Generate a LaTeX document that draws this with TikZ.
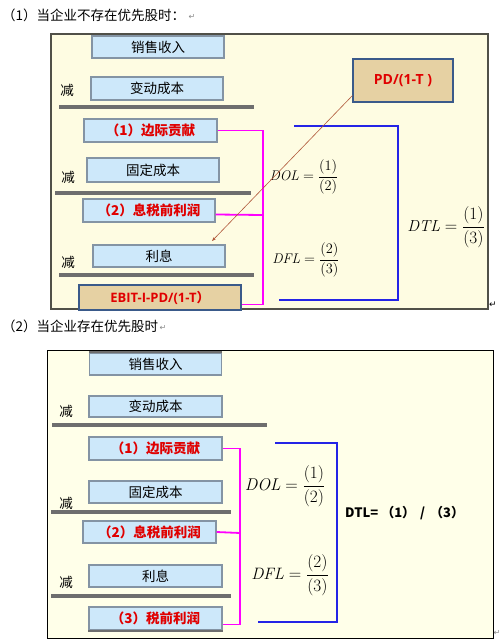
\documentclass[tikz,border=0pt]{standalone}
\usepackage{fontspec}
\usepackage{amsmath}
\newfontfamily\cjk{Noto Sans CJK SC}
\newfontfamily\osans{Open Sans}
\newfontfamily\dejavu{DejaVu Sans}
\usetikzlibrary{arrows.meta,calc}
\definecolor{boxfill}{HTML}{CDE8FA}
\definecolor{boxline}{HTML}{8494A4}
\definecolor{redtxt}{HTML}{E00000}
\definecolor{tanfill}{HTML}{E6D1A3}
\definecolor{tanline}{HTML}{3A5A8A}
\definecolor{bargray}{HTML}{6E6E6E}
\definecolor{magline}{HTML}{FF00FF}
\definecolor{blueline}{HTML}{2424E6}
\definecolor{panelA}{HTML}{FEFCE2}
\definecolor{panelB}{HTML}{FFFFE9}
\definecolor{frameA}{HTML}{505048}
\definecolor{brownline}{HTML}{B0583A}
\definecolor{markgray}{HTML}{8A8A8A}
\tikzset{
  box/.style={draw=boxline, line width=1.1pt, fill=boxfill, minimum width=132pt,
    minimum height=22pt, inner sep=0pt, font=\cjk\fontsize{13.5}{15}\selectfont},
  redbox/.style={box, text=redtxt, font=\cjk\bfseries\fontsize{13.5}{15}\selectfont},
  tanbox/.style={draw=tanline, line width=1.1pt, fill=tanfill, inner sep=0pt,
    text=redtxt, font=\osans\bfseries\fontsize{13}{15}\selectfont},
  bar/.style={draw=bargray, line width=4pt},
  mag/.style={draw=magline, line width=1.8pt},
  blu/.style={draw=blueline, line width=2pt},
  jian/.style={inner sep=0pt, font=\cjk\fontsize{13.5}{15}\selectfont},
  ttl/.style={inner sep=0pt, anchor=west, font=\cjk\fontsize{13.5}{15}\selectfont},
  pmark/.style={inner sep=0pt, text=markgray, font=\dejavu\fontsize{8}{9}\selectfont},
  fml/.style={inner sep=0pt}
}
\begin{document}
\begin{tikzpicture}[x=1pt,y=-1pt]
\useasboundingbox[fill=white] (0,0) rectangle (501,642);

% ---------- titles ----------
\node[ttl] (t1) at (2,15) {（1）当企业不存在优先股时：};
\node[pmark, anchor=west] (p1) at ($(t1.east)+(3,2)$) {↵};
\node[ttl] (t2) at (2,326) {（2）当企业存在优先股时};
\node[pmark, anchor=west] (p2) at ($(t2.east)+(1,2)$) {↵};

% ================= panel 1 =================
\draw[draw=frameA, line width=1.5pt, fill=panelA] (51,34) rectangle (488,309);

\node[box] (s1) at (158,47) {销售收入};
\node[jian] (j1) at (67,90) {减};
\node[box, minimum height=23pt] (v1) at (157,88.5) {变动成本};
\draw[bar] (59,107) -- (254,107);
\node[redbox, minimum width=133pt, minimum height=23pt] (m1) at (150.5,130.5) {（1）边际贡献};
\node[jian] (j2) at (68,177) {减};
\node[box, minimum height=24pt] (f1) at (153,170) {固定成本};
\draw[bar] (55,193) -- (251,193);
\node[redbox, minimum height=23pt] (e1) at (149,210.5) {（2）息税前利润};
\node[jian] (j3) at (68,262) {减};
\node[box] (i1) at (159,256) {利息};
\draw[bar] (59,275) -- (254,275);
\node[tanbox, minimum width=162pt, minimum height=25pt] (b1) at (160,297.5) {EBIT-I-PD/(1-T{\cjk\bfseries ）}};

% magenta bracket
\coordinate (mk1) at (263,215);
\draw[mag] (m1.east) -| (mk1) |- ($(b1.east)+(0,7)$);
\draw[mag] ($(e1.east)+(0,4)$) -- (mk1);

% blue bracket
\coordinate (ba) at (294,126);
\coordinate (bb) at (398,126);
\coordinate (bc) at (398,300);
\coordinate (bd) at (279,300);
\draw[blu] (ba) -- (bb) -- (bc) -- (bd);

% formulas
\node[fml, font=\fontsize{14}{16}\selectfont] (dol1) at (304,177) {$\mathit{DOL}=\dfrac{(1)}{(2)}$};
\node[fml, font=\fontsize{14}{16}\selectfont] (dfl1) at (306,260) {$\mathit{DFL}=\dfrac{(2)}{(3)}$};
\node[fml, font=\fontsize{16}{18}\selectfont] (dtl1) at (446,227) {$\mathit{DTL}=\dfrac{(1)}{(3)}$};

% PD box and pointer
\node[tanbox, minimum width=100pt, minimum height=43pt, font=\osans\bfseries\fontsize{14}{16}\selectfont] (pd) at (403,80.5) {PD/(1-T )};
\coordinate (ar) at (212,241);
\draw[draw=brownline, line width=0.6pt, -{Stealth[length=4pt,width=3pt]}] ($(pd.south west)+(0,-7)$) -- (ar);

\node[inner sep=0pt, font=\dejavu\fontsize{9}{10}\selectfont] (p3) at (493,305) {↵};

% ================= panel 2 =================
\draw[draw=black, line width=1pt, fill=panelB] (47,350) rectangle (493,638);

\node[box] (s2) at (155.5,364) {销售收入};
\draw[draw=bargray, line width=2pt] (s2.north west) -- (s2.north east);
\node[jian] (j4) at (66,411) {减};
\node[box, minimum width=133pt, minimum height=21pt] (v2) at (155.5,406.5) {变动成本};
\draw[bar] (52,425) -- (267,425);
\node[redbox, minimum width=133pt, minimum height=23pt] (m2) at (155.5,448.5) {（1）边际贡献};
\node[jian] (j5) at (66,503) {减};
\node[box, minimum width=133pt] (f2) at (155.5,492) {固定成本};
\draw[bar] (51,512) -- (231,512);
\node[redbox, minimum width=133pt] (e2) at (149.5,532) {（2）息税前利润};
\node[jian] (j6) at (66,582) {减};
\node[box, minimum width=133pt] (i2) at (155.5,576) {利息};
\draw[bar] (51,596) -- (231,596);
\node[redbox, minimum width=133pt, minimum height=23pt] (tp2) at (155.5,618.5) {（3）税前利润};
\draw[draw=bargray, line width=2pt] (tp2.south west) -- (tp2.south east);

% magenta bracket
\coordinate (mk2) at (240,533);
\draw[mag] (m2.east) -| (mk2) |- ($(tp2.east)+(0,6)$);
\draw[mag] (e2.east) -- (mk2);

% blue bracket
\coordinate (bA) at (275,443);
\coordinate (bB) at (337,443);
\coordinate (bC) at (337,622);
\coordinate (bD) at (258,622);
\draw[blu] (bA) -- (bB) -- (bC) -- (bD);

\node[fml, font=\fontsize{17}{19}\selectfont] (dol2) at (285,486) {$\mathit{DOL}=\dfrac{(1)}{(2)}$};
\node[fml, font=\fontsize{16.5}{19}\selectfont] (dfl2) at (290,575) {$\mathit{DFL}=\dfrac{(2)}{(3)}$};
\node[fml, anchor=west, font=\cjk\bfseries\fontsize{13}{15}\selectfont] (dtl2) at (345,513) {DTL=\hspace{3pt}（1）\hspace{5pt}/\hspace{5pt}（3）};

\node[pmark] (p4) at (497,633) {↵};
\end{tikzpicture}
\end{document}
